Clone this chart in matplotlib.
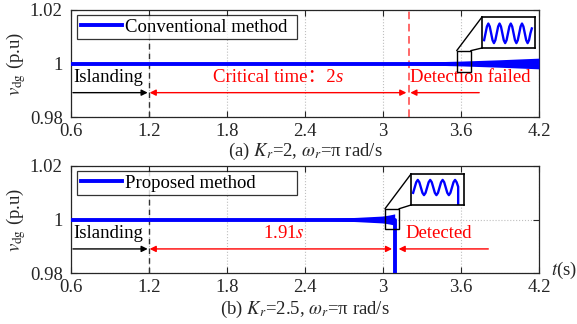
import numpy as np
import matplotlib
matplotlib.use("Agg")
import matplotlib.pyplot as plt
from matplotlib.patches import Rectangle, ConnectionPatch

plt.rcParams['font.family'] = ['Liberation Serif', 'Noto Sans CJK SC']
plt.rcParams['mathtext.fontset'] = 'stix'

# ---------------- data ----------------
xticks = [0.6, 1.2, 1.8, 2.4, 3.0, 3.6, 4.2]
xtick_labels = ['0.6', '1.2', '1.8', '2.4', '3', '3.6', '4.2']
yticks = [0.98, 1.0, 1.02]
ytick_labels = ['0.98', '1', '1.02']

# envelope of the oscillation around 1 p.u.
t_conv = [0.6, 1.2, 1.8, 2.4, 3.0, 3.2, 3.6, 3.9, 4.2]
amp_conv = [0.0, 0.0, 0.0001, 0.0002, 0.0003, 0.0004, 0.0009, 0.0014, 0.0020]

t_prop = [0.6, 1.2, 1.8, 2.4, 2.6, 2.8, 3.0, 3.05, 3.09]
amp_prop = [0.0, 0.0, 0.0001, 0.0002, 0.0004, 0.0008, 0.0013, 0.0017, 0.0021]
v_after_trip = 0.97   # voltage collapses once the islanding is detected

# zoomed waveforms shown in the insets (normalised samples)
inset_conv = [-0.7, 0, 0.7, 1, 0.7, 0, -0.7, -1] * 4 + [-0.7, 0, 0.5]
inset_prop = [-0.7, 0, 0.7, 1, 0.7, 0, -0.7, -1] * 3 + [-0.7, 0, 0.7, 1, 0.7, 0.1]
inset_prop_drop = -3.0

t_island = 1.2
t_crit = 3.2
t_detect = 3.09

BLUE = '#0000ff'
RED = '#ff0000'
GRID = '#bfbfbf'
AXC = '#262626'
FS = 13.5

W, H = 577, 324
fig = plt.figure(figsize=(W / 100, H / 100), dpi=100)


def px_box(x0, y0, x1, y1):
    # pixel rect (top-left origin) -> figure fraction
    return [x0 / W, 1 - y1 / H, (x1 - x0) / W, (y1 - y0) / H]


def setup_axes(ax):
    ax.set_xlim(0.6, 4.2)
    ax.set_ylim(0.98, 1.02)
    ax.set_xticks(xticks)
    ax.set_xticklabels(xtick_labels)
    ax.set_yticks(yticks)
    ax.set_yticklabels(ytick_labels)
    ax.tick_params(direction='in', top=True, right=True, labelsize=FS,
                   colors=AXC, length=4, width=0.8)
    ax.tick_params(axis='x', pad=4)
    ax.tick_params(axis='y', pad=6)
    ax.grid(True, ls=':', color=GRID, lw=0.8)
    for s in ax.spines.values():
        s.set_color(AXC)
        s.set_linewidth(0.9)
    ax.set_ylabel(r'$v_{\rm dg}$ (p.u)', fontsize=FS, color=AXC, va='center')
    ax.yaxis.set_label_coords(-0.117, 0.5)
    ax.axvline(t_island, color='#333333', ls='--', lw=1.0, dashes=(4, 3))


def arrow(ax, x_tail, x_head, y, color):
    ax.annotate('', xy=(x_head, y), xytext=(x_tail, y),
                arrowprops=dict(arrowstyle='-|>', color=color, lw=1.0,
                                mutation_scale=9, shrinkA=0, shrinkB=0))


def make_inset(ax, rect_data, inset_px, y, drop=None, ylim=(-1.5, 1.7), xfrac=(0.04, 0.96)):
    x0, x1, y0, y1 = rect_data
    ax.add_patch(Rectangle((x0, y0), x1 - x0, y1 - y0, fill=False, ec='k', lw=1.0, zorder=6))
    ins = fig.add_axes(px_box(*inset_px))
    n = len(y)
    xs = list(range(n))
    ys = list(y)
    if drop is not None:
        xs.append(xs[-1])
        ys.append(drop)
    ins.plot(xs, ys, color=BLUE, lw=1.7)
    span = (n - 1) / (xfrac[1] - xfrac[0])
    ins.set_xlim(-xfrac[0] * span, -xfrac[0] * span + span)
    ins.set_ylim(*ylim)
    ins.set_xticks([])
    ins.set_yticks([])
    for s in ins.spines.values():
        s.set_linewidth(1.2)
    for xa, xb in [((x0, y1), (0, 1)), ((x1, y1), (0, 0))]:
        fig.add_artist(ConnectionPatch(xyA=xa, coordsA=ax.transData, xyB=xb,
                                       coordsB=ins.transAxes, color='k', lw=1.0))
    return ins


# ---------------- (a) conventional method ----------------
ax1 = fig.add_axes(px_box(71, 10, 539, 117))
setup_axes(ax1)
tc = np.array(t_conv)
ac = np.array(amp_conv)
ax1.fill_between(tc, 1 - ac, 1 + ac, color=BLUE, lw=0, zorder=3)
ax1.plot(tc, np.ones_like(tc), color=BLUE, lw=2.8, zorder=3, label='Conventional method')
ax1.axvline(t_crit, color='#ff4040', ls='--', lw=1.1, dashes=(5, 3))
leg = ax1.legend(loc='upper left', bbox_to_anchor=(0.013, 0.69, 0.47, 0.265), mode='expand',
                 borderaxespad=0, fontsize=FS, fancybox=False, edgecolor='k',
                 handlelength=2.2, handletextpad=0.15, borderpad=0.2)
leg.get_frame().set_linewidth(0.9)

ax1.text(0.615, 0.9946, 'Islanding', fontsize=FS, va='center', ha='left', color='k')
arrow(ax1, 0.615, 1.19, 0.9891, 'k')
ax1.annotate('', xy=(1.205, 0.9891), xytext=(t_crit - 0.02, 0.9891),
             arrowprops=dict(arrowstyle='<|-|>', color=RED, lw=1.0,
                             mutation_scale=9, shrinkA=0, shrinkB=0))
crit = ax1.text(1.69, 0.9946, 'Critical time：2', fontsize=FS, va='center', ha='left', color=RED)
ax1.text(3.21, 0.9946, 'Detection failed', fontsize=FS, va='center', ha='left', color=RED)
arrow(ax1, 3.74, 3.21, 0.9891, RED)
make_inset(ax1, (3.567, 3.675, 0.9967, 1.0048), (482, 17, 535, 48), inset_conv,
           ylim=(-1.5, 1.67), xfrac=(0.04, 0.94))
fig.text(305 / W, 1 - 151 / H, r'(a) $K_r$=2, $\omega_r$=π rad/s', fontsize=FS,
         ha='center', va='center', color=AXC)

# ---------------- (b) proposed method ----------------
ax2 = fig.add_axes(px_box(71, 166, 539, 273))
setup_axes(ax2)
tp = np.array(t_prop)
ap = np.array(amp_prop)
ax2.fill_between(tp, 1 - ap, 1 + ap, color=BLUE, lw=0, zorder=3)
ax2.plot(list(tp) + [t_detect], [1.0] * len(tp) + [v_after_trip], color=BLUE, lw=2.8,
         zorder=3, label='Proposed method')
leg2 = ax2.legend(loc='upper left', bbox_to_anchor=(0.013, 0.69, 0.47, 0.265), mode='expand',
                  borderaxespad=0, fontsize=FS, fancybox=False, edgecolor='k',
                  handlelength=2.2, handletextpad=0.15, borderpad=0.2)
leg2.get_frame().set_linewidth(0.9)

ax2.text(0.615, 0.9948, 'Islanding', fontsize=FS, va='center', ha='left', color='k')
arrow(ax2, 0.615, 1.19, 0.989, 'k')
ax2.annotate('', xy=(1.205, 0.989), xytext=(3.07, 0.989),
             arrowprops=dict(arrowstyle='<|-|>', color=RED, lw=1.0,
                             mutation_scale=9, shrinkA=0, shrinkB=0))
ax2.text(2.24, 0.9948, r'1.91$s$', fontsize=FS, va='center', ha='center', color=RED)
ax2.text(3.17, 0.9948, 'Detected', fontsize=FS, va='center', ha='left', color=RED)
arrow(ax2, 3.81, 3.12, 0.989, RED)
make_inset(ax2, (3.015, 3.123, 0.9964, 1.004), (411, 174, 464, 205), inset_prop,
           drop=inset_prop_drop, ylim=(-2.3, 1.78), xfrac=(0.04, 0.89))
fig.text(305 / W, 1 - 309 / H, r'(b) $K_r$=2.5, $\omega_r$=π rad/s', fontsize=FS,
         ha='center', va='center', color=AXC)
fig.text(551 / W, 1 - 270 / H, r'$t$(s)', fontsize=FS, ha='left', va='center', color=AXC)

# italic "s" right after "Critical time：2"
fig.canvas.draw()
bb = crit.get_window_extent()
xs_data = ax1.transData.inverted().transform((bb.x1, bb.y0))[0]
ax1.text(xs_data, 0.9946, 's', fontsize=FS, va='center', ha='left', color=RED, style='italic')

fig.savefig('out.png', dpi=100)
